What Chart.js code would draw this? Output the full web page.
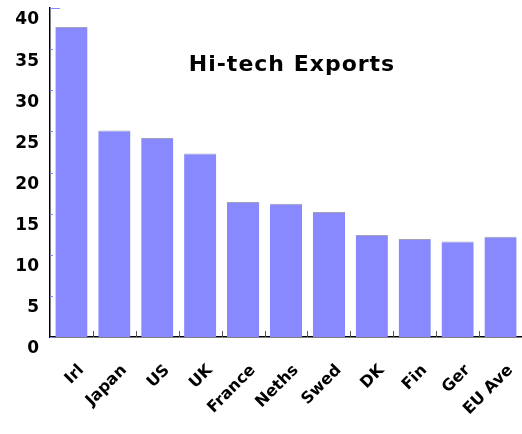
<!DOCTYPE html>
<html>
<head>
<meta charset="utf-8">
<script src="https://cdn.jsdelivr.net/npm/chart.js@4/dist/chart.umd.min.js"></script>
<style>
    html, body { margin: 0; padding: 0; background: #fff; }
    #wrap { width: 522px; height: 434px; position: relative; }
</style>
</head>
<body>
<div id="wrap"><canvas id="exports-chart"></canvas></div>
<script>
// Hi-tech exports, % of manufactured exports
const countries = ['Irl', 'Japan', 'US', 'UK', 'France', 'Neths', 'Swed', 'DK', 'Fin', 'Ger', 'EU Ave'];
const exportShare = [37.7, 25.1, 24.2, 22.3, 16.4, 16.2, 15.2, 12.4, 11.9, 11.6, 12.2];
const yTicks = [0, 5, 10, 15, 20, 25, 30, 35, 40];

const chartTitle = 'Hi-tech Exports';

// short tick marks drawn on the inside of both axes
const innerTicks = {
    id: 'innerTicks',
    afterDatasetsDraw(chart) {
        const { ctx, chartArea, scales } = chart;
        ctx.save();
        ctx.lineWidth = 1;
        ctx.strokeStyle = '#8888ff';
        scales.y.ticks.forEach((t, i) => {
            const y = Math.round(scales.y.getPixelForTick(i)) + 0.5;
            ctx.beginPath();
            ctx.moveTo(chartArea.left, y);
            ctx.lineTo(chartArea.left + (i === scales.y.ticks.length - 1 ? 10 : 3), y);
            ctx.stroke();
        });
        ctx.strokeStyle = '#555';
        for (let i = 1; i < countries.length; i++) {
            const x = Math.round((scales.x.getPixelForTick(i - 1) + scales.x.getPixelForTick(i)) / 2) + 0.5;
            ctx.beginPath();
            ctx.moveTo(x, chartArea.bottom);
            ctx.lineTo(x, chartArea.bottom - 6);
            ctx.stroke();
        }
        ctx.restore();
    }
};

// title sits inside the plot area
const innerTitle = {
    id: 'innerTitle',
    afterDraw(chart) {
        const { ctx } = chart;
        ctx.save();
        ctx.font = 'bold 22px "DejaVu Sans", sans-serif';
        ctx.letterSpacing = '1px';
        ctx.fillStyle = '#000';
        ctx.textAlign = 'center';
        ctx.textBaseline = 'middle';
        ctx.fillText(chartTitle, 292, 65);
        ctx.restore();
    }
};

new Chart(document.getElementById('exports-chart'), {
    type: 'bar',
    data: {
        labels: countries,
        datasets: [{
            data: exportShare,
            backgroundColor: '#8888ff',
            borderColor: 'rgba(80,80,130,0.55)',
            borderWidth: { top: 1, left: 0, right: 0, bottom: 0 },
            borderSkipped: 'bottom',
            barPercentage: 0.75,
            categoryPercentage: 1
        }]
    },
    options: {
        responsive: true,
        maintainAspectRatio: false,
        animation: false,
        layout: { padding: { top: 8, right: -4, left: 0, bottom: 0 } },
        plugins: {
            legend: { display: false },
            tooltip: { enabled: false }
        },
        scales: {
            x: {
                grid: { display: false, drawTicks: false },
                border: { color: '#000', width: 1.5 },
                ticks: {
                    color: '#000',
                    font: { family: 'DejaVu Sans', size: 16, weight: 'bold' },
                    minRotation: 45,
                    maxRotation: 45,
                    padding: 24,
                    labelOffset: 10
                },
                afterFit(scale) {
                    scale.height = 97;
                    scale.paddingLeft = 0;
                    scale.paddingRight = 0;
                }
            },
            y: {
                min: 0,
                max: 40,
                afterBuildTicks(scale) { scale.ticks = yTicks.map(v => ({ value: v })); },
                grid: { display: false, drawTicks: false },
                border: { color: '#000', width: 1.5 },
                ticks: {
                    color: '#000',
                    font: { family: 'DejaVu Sans', size: 17, weight: 'bold' },
                    padding: 11,
                    labelOffset: 12
                },
                afterFit(scale) {
                    scale.width = 50;
                    scale.paddingTop = 0;
                    scale.paddingBottom = 0;
                }
            }
        }
    },
    plugins: [innerTicks, innerTitle]
});
</script>
</body>
</html>
